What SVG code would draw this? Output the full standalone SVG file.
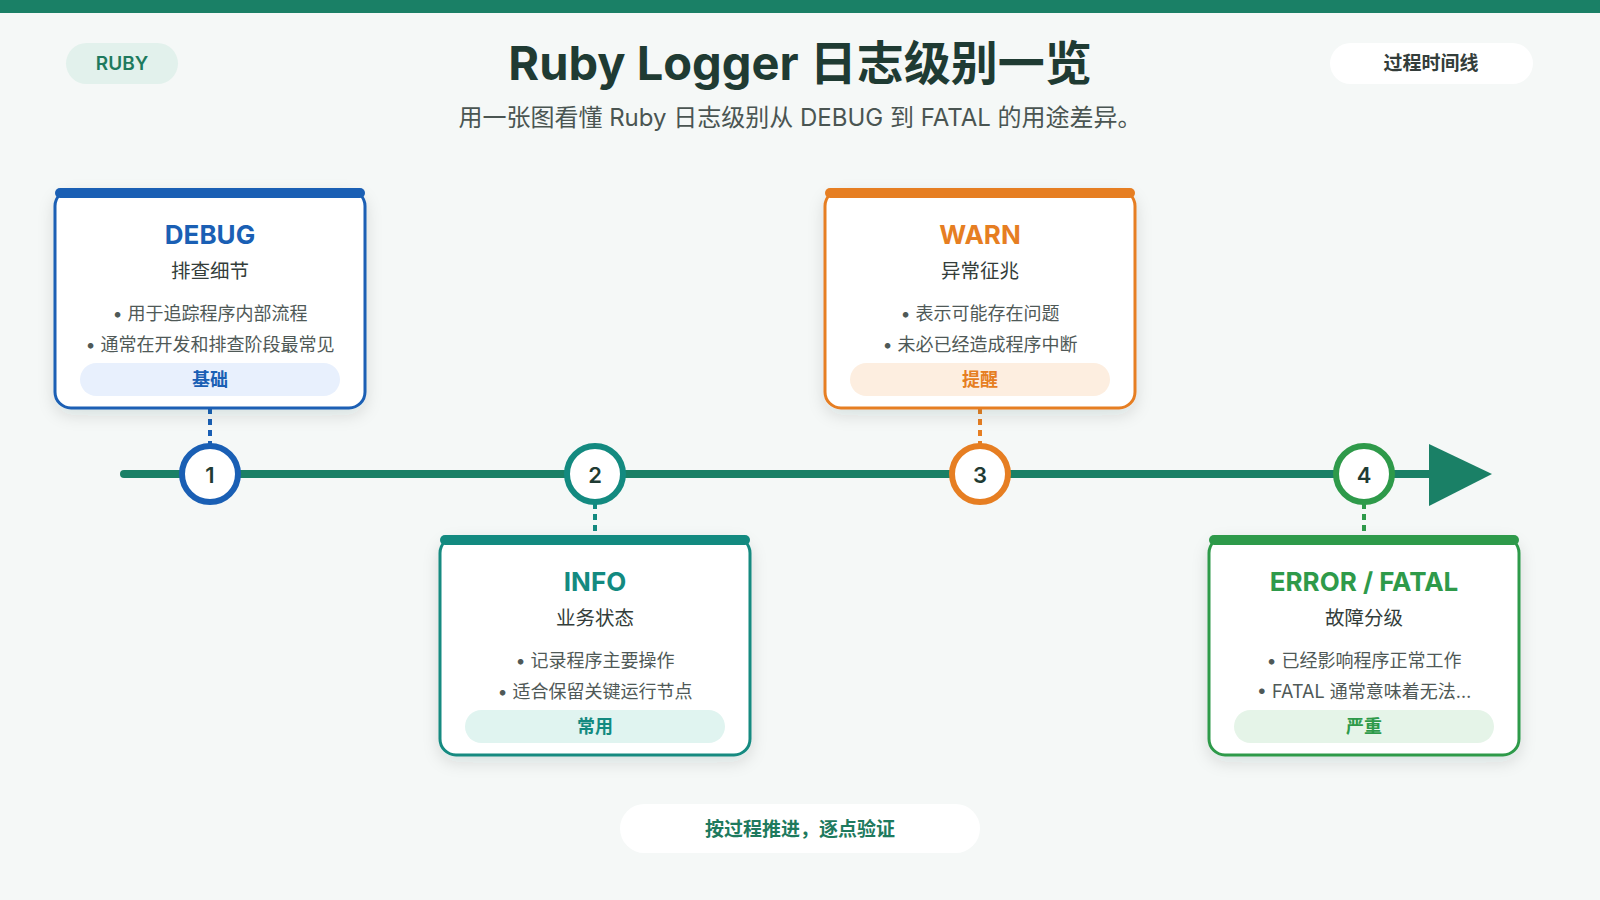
<svg xmlns="http://www.w3.org/2000/svg" width="1600" height="900" viewBox="0 0 1600 900">
<defs>
<filter id="sh" x="-20%" y="-20%" width="140%" height="150%"><feDropShadow dx="0" dy="6" stdDeviation="8" flood-color="#1f3b33" flood-opacity="0.12"/></filter>
<style>
text{font-family:Inter,"Noto Sans CJK SC",sans-serif;text-anchor:middle;dominant-baseline:central}
.ct{font-size:26px;font-weight:700}
.cs{font-size:19.5px;fill:#333d3a}
.cb{font-size:18px;fill:#4f5957}
.pt{font-size:18px;font-weight:700}
.card{fill:#fff;stroke-width:3}
.num{font-size:22px;font-weight:600;fill:#1f3b33}
</style>
</defs>
<rect width="1600" height="900" fill="#f5f8f7"/>
<rect width="1600" height="13" fill="#1a8066"/>
<rect x="66" y="43" width="112" height="41" rx="20.5" fill="#e2f1ec"/>
<text x="122" y="63.5" font-size="19" font-weight="600" fill="#1e7a5e">RUBY</text>
<text x="800" y="62" font-size="47" font-weight="700" fill="#1f3b33">Ruby Logger 日志级别一览</text>
<text x="800" y="117" font-size="24" fill="#4a5552">用一张图看懂 Ruby 日志级别从 DEBUG 到 FATAL 的用途差异。</text>
<rect x="1330" y="43" width="203" height="41" rx="20.5" fill="#fff"/>
<text x="1431" y="63.5" font-size="19" font-weight="700" fill="#333d3a">过程时间线</text>

<g id="connectors">
<line x1="124" y1="474" x2="1440" y2="474" stroke="#1a8066" stroke-width="8" stroke-linecap="round"/>
<polygon points="1429,444 1492,474 1429,506" fill="#1a8066"/>
<line x1="210" y1="408" x2="210" y2="445" stroke="#1a5fb4" stroke-width="4" stroke-dasharray="6 5"/>
<line x1="595" y1="503" x2="595" y2="535" stroke="#138a80" stroke-width="4" stroke-dasharray="6 5"/>
<line x1="980" y1="408" x2="980" y2="445" stroke="#e67e22" stroke-width="4" stroke-dasharray="6 5"/>
<line x1="1364" y1="503" x2="1364" y2="535" stroke="#2e9a4a" stroke-width="4" stroke-dasharray="6 5"/>
</g>

<g id="m1"><circle cx="210" cy="474" r="28" fill="#fff" stroke="#1a5fb4" stroke-width="6"/><text class="num" x="210" y="475">1</text></g>
<g id="m2"><circle cx="595" cy="474" r="28" fill="#fff" stroke="#138a80" stroke-width="6"/><text class="num" x="595" y="475">2</text></g>
<g id="m3"><circle cx="980" cy="474" r="28" fill="#fff" stroke="#e67e22" stroke-width="6"/><text class="num" x="980" y="475">3</text></g>
<g id="m4"><circle cx="1364" cy="474" r="28" fill="#fff" stroke="#2e9a4a" stroke-width="6"/><text class="num" x="1364" y="475">4</text></g>

<g id="debug">
<rect class="card" x="55" y="190" width="310" height="218" rx="16" stroke="#1a5fb4" filter="url(#sh)"/>
<rect x="55" y="188" width="310" height="10" rx="5" fill="#1a5fb4"/>
<text class="ct" x="210" y="234" fill="#1a5fb4">DEBUG</text>
<text class="cs" x="210" y="271">排查细节</text>
<text class="cb" x="210" y="313">• 用于追踪程序内部流程</text>
<text class="cb" x="210" y="344">• 通常在开发和排查阶段最常见</text>
<rect x="80" y="363" width="260" height="33" rx="16.5" fill="#e8f0fd"/>
<text class="pt" x="210" y="379.5" fill="#1a5fb4">基础</text>
</g>
<g id="info">
<rect class="card" x="440" y="537" width="310" height="218" rx="16" stroke="#138a80" filter="url(#sh)"/>
<rect x="440" y="535" width="310" height="10" rx="5" fill="#138a80"/>
<text class="ct" x="595" y="581" fill="#138a80">INFO</text>
<text class="cs" x="595" y="618">业务状态</text>
<text class="cb" x="595" y="660">• 记录程序主要操作</text>
<text class="cb" x="595" y="691">• 适合保留关键运行节点</text>
<rect x="465" y="710" width="260" height="33" rx="16.5" fill="#e0f4f0"/>
<text class="pt" x="595" y="726.5" fill="#138a80">常用</text>
</g>
<g id="warn">
<rect class="card" x="825" y="190" width="310" height="218" rx="16" stroke="#e67e22" filter="url(#sh)"/>
<rect x="825" y="188" width="310" height="10" rx="5" fill="#e67e22"/>
<text class="ct" x="980" y="234" fill="#e67e22">WARN</text>
<text class="cs" x="980" y="271">异常征兆</text>
<text class="cb" x="980" y="313">• 表示可能存在问题</text>
<text class="cb" x="980" y="344">• 未必已经造成程序中断</text>
<rect x="850" y="363" width="260" height="33" rx="16.5" fill="#fdeee0"/>
<text class="pt" x="980" y="379.5" fill="#e67e22">提醒</text>
</g>
<g id="error">
<rect class="card" x="1209" y="537" width="310" height="218" rx="16" stroke="#2e9a4a" filter="url(#sh)"/>
<rect x="1209" y="535" width="310" height="10" rx="5" fill="#2e9a4a"/>
<text class="ct" x="1364" y="581" fill="#2e9a4a">ERROR / FATAL</text>
<text class="cs" x="1364" y="618">故障分级</text>
<text class="cb" x="1364" y="660">• 已经影响程序正常工作</text>
<text class="cb" x="1364" y="691">• FATAL 通常意味着无法…</text>
<rect x="1234" y="710" width="260" height="33" rx="16.5" fill="#e5f4e8"/>
<text class="pt" x="1364" y="726.5" fill="#2e9a4a">严重</text>
</g>

<rect x="620" y="804" width="360" height="49" rx="24.5" fill="#fff"/>
<text x="800" y="829" font-size="19" font-weight="700" fill="#1e7a5e">按过程推进，逐点验证</text>
</svg>
